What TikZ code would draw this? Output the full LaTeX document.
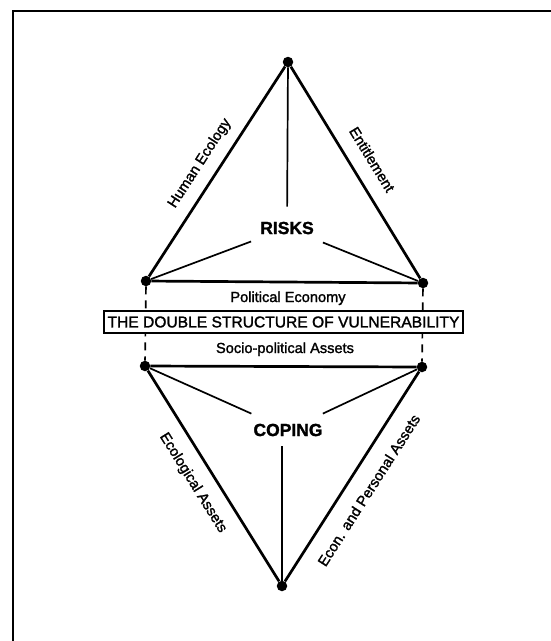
\documentclass[tikz,border=0pt]{standalone}
\usepackage{fontspec}
\setmainfont{Liberation Sans}
\newfontfamily\scanfont{Liberation Sans}[FakeBold=1.6]
\begin{document}
\begin{tikzpicture}[x=1pt,y=-1pt,
  every node/.style={font=\scanfont\fontsize{14.6}{17}\selectfont},
  edge/.style={line width=2.7pt},
  spoke/.style={line width=1.7pt},
  vtx/.style={circle,fill,inner sep=0pt,minimum size=10.5pt},
  hub/.style={font=\scanfont\fontsize{17.5}{20}\selectfont\bfseries}]
\useasboundingbox (0,0) rectangle (551,641);
\draw[line width=2pt] (13,641) |- (551,11);
\node[vtx] (top) at (288,62) {};
\node[vtx] (ul) at (146,281) {};
\node[vtx] (ur) at (423,283) {};
\node[vtx] (ll) at (145,366) {};
\node[vtx] (lr) at (422,367) {};
\node[vtx] (bot) at (282,586) {};
\node[hub,inner xsep=9pt,inner ysep=15pt] (risks) at (287,228) {RISKS};
\node[hub,inner xsep=3pt,inner ysep=10pt] (coping) at (288,430) {COPING};
\draw[edge] (ul) -- node[pos=0.49,sloped,above=7.3pt] {Human Ecology} (top);
\draw[edge] (top) -- node[pos=0.49,sloped,above=11pt] {Entitlement} (ur);
\draw[edge] (ul) -- (ur);
\draw[edge] (ll) -- (lr);
\draw[edge] (ll) -- node[pos=0.48,sloped,below=9.6pt] {Ecological Assets} (bot);
\draw[edge] (bot) -- node[pos=0.49,sloped,below=11.5pt] {Econ. and Personal Assets} (lr);
\draw[spoke] (top) -- (risks);
\draw[spoke] (ul) -- (risks);
\draw[spoke] (ur) -- (risks);
\draw[spoke] (ll) -- (coping);
\draw[spoke] (lr) -- (coping);
\draw[spoke] (bot) -- (bot |- coping.south);
\draw[line width=1.7pt,dash pattern=on 8pt off 6pt] (ul) -- (ll);
\draw[line width=1.7pt,dash pattern=on 8pt off 6pt] (ur) -- (lr);
\node[anchor=base] (polec) at (288,302) {Political Economy};
\node[draw,line width=1.5pt,fill=white,minimum width=359pt,minimum height=22pt,inner sep=0pt,
  font=\scanfont\fontsize{15.6}{18}\selectfont] (dsv) at (283.5,322) {THE DOUBLE STRUCTURE OF VULNERABILITY};
\node[anchor=base] (sociopol) at (285,353) {Socio-political Assets};
\end{tikzpicture}
\end{document}
